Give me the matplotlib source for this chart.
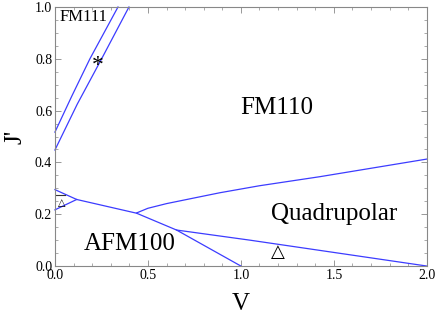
#!/usr/bin/env python
"""Phase diagram in the (V, J') plane."""

import matplotlib

matplotlib.use("Agg")
import matplotlib.pyplot as plt
from matplotlib.ticker import MultipleLocator

# phase boundaries, (V, J') pairs
fm111_upper_v = [0.0, 0.09, 0.188, 0.339]
fm111_upper_j = [0.517, 0.655, 0.80, 1.0]
fm111_lower_v = [0.0, 0.12, 0.251, 0.398]
fm111_lower_j = [0.448, 0.625, 0.80, 1.0]

fm110_quad_v = [0.439, 0.50, 0.60, 0.75, 0.887, 1.10, 1.425, 2.0]
fm110_quad_j = [0.205, 0.223, 0.241, 0.263, 0.283, 0.310, 0.345, 0.413]

afm_upper_v = [0.0, 0.117, 0.439, 0.654, 1.0]
afm_upper_j = [0.295, 0.257, 0.204, 0.139, 0.0]

small_lower_v = [0.0, 0.117]
small_lower_j = [0.217, 0.257]

quad_lower_v = [0.654, 1.048, 2.0]
quad_lower_j = [0.139, 0.100, 0.0]

tick_v = [0.0, 0.5, 1.0, 1.5, 2.0]
tick_j = [0.0, 0.2, 0.4, 0.6, 0.8, 1.0]

LINE = "#3c3cff"
SERIF = ["Liberation Serif", "DejaVu Serif"]


def main():
    plt.rcParams["font.family"] = SERIF

    fig = plt.figure(figsize=(4.36, 3.19), dpi=100)
    ax = fig.add_axes([0.126, 0.166, 0.853, 0.812])

    for xs, ys in [
        (fm111_upper_v, fm111_upper_j),
        (fm111_lower_v, fm111_lower_j),
        (fm110_quad_v, fm110_quad_j),
        (afm_upper_v, afm_upper_j),
        (small_lower_v, small_lower_j),
        (quad_lower_v, quad_lower_j),
    ]:
        ax.plot(xs, ys, color=LINE, linewidth=0.9, clip_on=False)

    # short black segment above the small triangle
    ax.plot([0.0, 0.052], [0.274, 0.274], color="#333333", linewidth=0.8)

    ax.text(0.156, 0.96, "FM111", fontsize=12, ha="center", va="center")
    ax.text(1.19, 0.61, "FM110", fontsize=18, ha="center", va="center")
    ax.text(0.40, 0.085, "AFM100", fontsize=18, ha="center", va="center")
    ax.text(1.50, 0.20, "Quadrupolar", fontsize=18, ha="center", va="center")
    ax.text(0.228, 0.775, "*", fontsize=17, ha="center", va="center")
    ax.text(0.036, 0.243, "\u25b3", fontsize=7, ha="center", va="center",
            family=["DejaVu Sans"])
    ax.text(1.20, 0.053, "\u25b3", fontsize=13, ha="center", va="center",
            family=["DejaVu Sans"])

    ax.set_xlim(0, 2)
    ax.set_ylim(0, 1)
    ax.set_xticks(tick_v)
    ax.set_yticks(tick_j)
    ax.set_xticklabels([f"{v:.1f}" for v in tick_v])
    ax.set_yticklabels([f"{v:.1f}" for v in tick_j])
    ax.xaxis.set_minor_locator(MultipleLocator(0.1))
    ax.yaxis.set_minor_locator(MultipleLocator(0.05))
    ax.tick_params(which="both", direction="in", top=True, right=True,
                   colors="#888888", labelcolor="black", labelsize=10, pad=2)
    ax.tick_params(which="major", length=4, width=0.6)
    ax.tick_params(which="minor", length=2.2, width=0.5)
    for sp in ax.spines.values():
        sp.set_color("#888888")
        sp.set_linewidth(0.8)

    ax.set_xlabel("V", fontsize=18, labelpad=8)
    ax.set_ylabel("J'", fontsize=18, labelpad=6)

    fig.savefig("out.png", dpi=100)
    plt.close(fig)


if __name__ == "__main__":
    main()
